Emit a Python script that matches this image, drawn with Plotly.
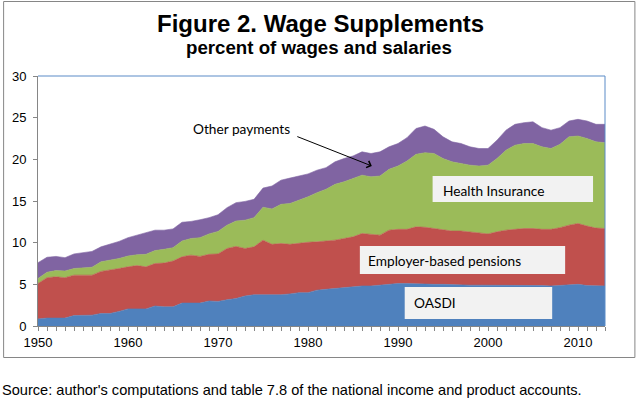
import plotly.graph_objects as go

years = list(range(1950, 2014))

oasdi = [0.85, 0.95, 0.95, 0.95, 1.25, 1.3, 1.3, 1.5, 1.5, 1.75,
         2.05, 2.05, 2.05, 2.4, 2.3, 2.3, 2.75, 2.75, 2.75, 3.0,
         2.95, 3.15, 3.3, 3.6, 3.75, 3.75, 3.75, 3.75, 3.85, 4.0,
         4.0, 4.3, 4.4, 4.5, 4.65, 4.7, 4.8, 4.8, 4.9, 5.05,
         5.1, 5.1, 5.05, 5.05, 5.0, 5.0, 4.95, 4.95, 4.9, 4.9,
         4.9, 4.9, 4.9, 4.9, 4.9, 4.9, 4.85, 4.8, 4.85, 4.95,
         5.0, 4.85, 4.8, 4.8]

pensions = [4.25, 4.85, 4.95, 4.85, 4.85, 4.8, 4.8, 5.05, 5.2, 5.15,
            5.05, 5.2, 5.05, 5.1, 5.25, 5.5, 5.55, 5.75, 5.6, 5.6,
            5.7, 6.15, 6.25, 5.7, 5.75, 6.55, 6.05, 6.15, 5.95, 5.95,
            6.05, 5.8, 5.8, 5.8, 5.85, 6.0, 6.3, 6.2, 6.0, 6.45,
            6.5, 6.5, 6.85, 6.8, 6.7, 6.5, 6.45, 6.45, 6.4, 6.3,
            6.15, 6.4, 6.6, 6.7, 6.8, 6.8, 6.75, 6.8, 6.95, 7.15,
            7.3, 7.15, 6.95, 6.9]

health = [0.6, 0.65, 0.75, 0.8, 0.8, 0.9, 0.95, 1.15, 1.2, 1.2,
          1.3, 1.3, 1.5, 1.55, 1.65, 1.6, 1.9, 2.0, 2.25, 2.45,
          2.7, 2.8, 3.05, 3.4, 3.5, 3.95, 4.25, 4.7, 4.9, 5.15,
          5.45, 5.9, 6.2, 6.7, 6.8, 7.0, 7.0, 6.9, 7.1, 7.3,
          7.6, 8.2, 8.7, 8.95, 9.0, 8.6, 8.3, 8.1, 8.0, 8.0,
          8.25, 8.8, 9.6, 10.1, 10.2, 10.2, 9.9, 9.7, 10.0, 10.6,
          10.5, 10.5, 10.35, 10.3]

other = [1.9, 1.8, 1.7, 1.6, 1.75, 1.8, 1.9, 1.8, 1.9, 2.05,
         2.2, 2.35, 2.6, 2.45, 2.3, 2.25, 2.25, 2.05, 2.15, 1.95,
         2.0, 2.1, 2.2, 2.25, 2.2, 2.3, 2.75, 2.9, 3.05, 2.9,
         2.75, 2.7, 2.6, 2.7, 2.8, 2.7, 2.8, 2.8, 2.9, 2.7,
         2.7, 2.8, 3.1, 3.2, 2.9, 2.6, 2.4, 2.4, 2.2, 2.1,
         2.0, 2.2, 2.4, 2.5, 2.5, 2.6, 2.3, 2.2, 2.0, 1.9,
         2.0, 2.1, 2.1, 2.2]

series_names = ["OASDI", "Employer-based pensions", "Health Insurance", "Other payments"]
series_values = [oasdi, pensions, health, other]
colors = ["#4F81BD", "#C0504D", "#9BBB59", "#8064A2"]

x_ticks = [1950, 1960, 1970, 1980, 1990, 2000, 2010]
y_ticks = [0, 5, 10, 15, 20, 25, 30]

W, H = 638, 399
ML, MR, MT, MB = 36, 33, 76, 73
PW, PH = W - ML - MR, H - MT - MB


def px(xp):
    return (xp - ML) / PW


def py(yp):
    return (H - MB - yp) / PH


fig = go.Figure()
for name, vals, c in zip(series_names, series_values, colors):
    fig.add_trace(go.Scatter(
        x=years, y=vals, name=name, stackgroup="one", mode="lines",
        line=dict(width=0.6, color=c), fillcolor=c, hoverinfo="skip",
    ))

AX = "#868686"
ARIAL = "Liberation Sans, Arial, sans-serif"
CAL = "Lato, Carlito, Calibri, sans-serif"

fig.update_layout(
    width=W, height=H,
    margin=dict(l=ML, r=MR, t=MT, b=MB),
    paper_bgcolor="white", plot_bgcolor="white",
    showlegend=False,
    font=dict(family=ARIAL, size=13, color="black"),
    xaxis=dict(
        range=[years[0], years[-1]], tickvals=x_ticks,
        ticks="outside", ticklen=4, tickcolor=AX, tickwidth=1,
        showline=True, linecolor=AX, linewidth=1, showgrid=False,
        zeroline=False, tickfont=dict(family=ARIAL, size=13),
        minor=dict(dtick=1, tick0=1950, ticks="outside", ticklen=4, tickcolor=AX, showgrid=False),
        ticklabelstandoff=0,
    ),
    yaxis=dict(
        range=[0, 30], tickvals=y_ticks,
        ticks="outside", ticklen=4, tickcolor=AX,
        showline=True, linecolor=AX, linewidth=1, showgrid=False,
        zeroline=False, tickfont=dict(family=ARIAL, size=13),
        ticklabelstandoff=4,
    ),
)

shapes = []
# chart border
shapes.append(dict(type="rect", xref="paper", yref="paper",
                   x0=px(1.5), x1=px(635), y0=py(357.5), y1=py(1.5),
                   line=dict(color=AX, width=1), layer="below"))
# plot area border top & right
shapes.append(dict(type="line", xref="paper", yref="paper", x0=0, x1=1, y0=1, y1=1,
                   line=dict(color="#5B8BC7", width=1), layer="above"))
shapes.append(dict(type="line", xref="paper", yref="paper", x0=1, x1=1, y0=0, y1=1,
                   line=dict(color="#5B8BC7", width=1), layer="above"))
# label boxes
boxes = [(432, 593, 176, 202), (359, 565, 246, 274), (404, 552, 287, 319)]
for x0, x1, y0, y1 in boxes:
    shapes.append(dict(type="rect", xref="paper", yref="paper",
                       x0=px(x0), x1=px(x1), y0=py(y1), y1=py(y0),
                       fillcolor="#F2F2F2", line=dict(width=0), layer="above"))
fig.update_layout(shapes=shapes)

ann = []
ann.append(dict(text="<b>Figure 2. Wage Supplements</b>", xref="paper", yref="paper",
                x=px(319), y=py(23), xanchor="center", yanchor="middle", showarrow=False,
                font=dict(family=ARIAL, size=24, color="black")))
ann.append(dict(text="<b>percent of wages and salaries</b>", xref="paper", yref="paper",
                x=px(318), y=py(48), xanchor="center", yanchor="middle", showarrow=False,
                font=dict(family=ARIAL, size=18.7, color="black")))
ann.append(dict(text="Source: author's computations and table 7.8 of the national income and product accounts.",
                xref="paper", yref="paper", x=px(-2), y=py(390), xanchor="left", yanchor="middle",
                showarrow=False, font=dict(family=ARIAL, size=14.6, color="black")))
labels = [("Health Insurance", 443, 190), ("Employer-based pensions", 368, 260), ("OASDI", 414, 302)]
for t, xx, yy in labels:
    ann.append(dict(text=t, xref="paper", yref="paper", x=px(xx - 3), y=py(yy),
                    xanchor="left", yanchor="middle", showarrow=False,
                    font=dict(family=CAL, size=13.7, color="black")))
ann.append(dict(text="Other payments", xref="paper", yref="paper", x=px(190), y=py(128),
                xanchor="left", yanchor="middle", showarrow=False,
                font=dict(family=CAL, size=13.7, color="black")))
ann.append(dict(text="", xref="paper", yref="paper", x=px(371), y=py(166),
                ax=-76, ay=-30, axref="pixel", ayref="pixel",
                showarrow=True, arrowhead=4, arrowsize=1.4, arrowwidth=1, arrowcolor="black"))
fig.update_layout(annotations=ann)

fig.write_html(
    "out.html",
    config={"displayModeBar": False, "staticPlot": True},
    post_script="document.body.style.margin='0';document.body.style.padding='0';",
)
